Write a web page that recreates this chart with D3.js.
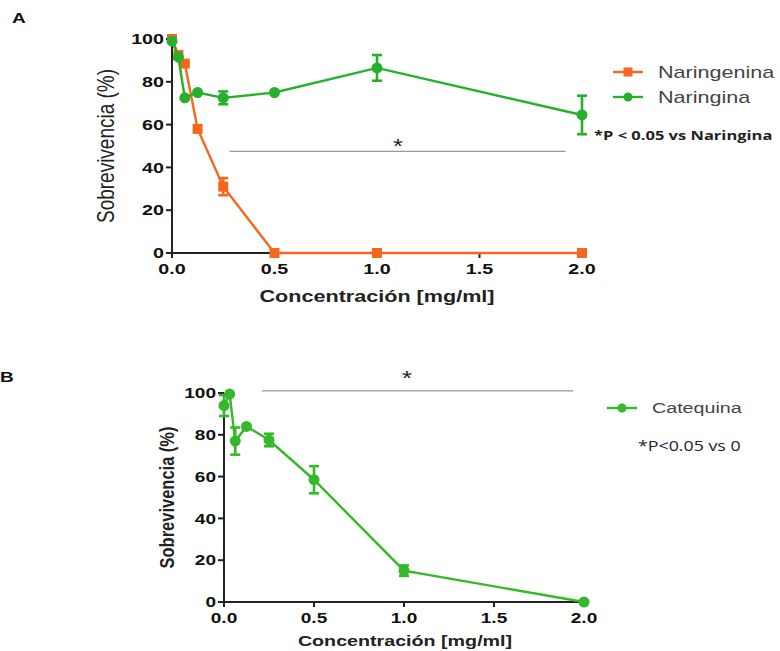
<!DOCTYPE html>
<html>
<head>
<meta charset="utf-8">
<script src="https://cdn.jsdelivr.net/npm/d3@7"></script>
<style>
  body { margin: 0; background: #fff; }
  text { font-family: "Liberation Sans", Arial, sans-serif; }
</style>
</head>
<body>
<script>
// concentrations tested [mg/ml]
var conc = [0, 0.03125, 0.0625, 0.125, 0.25, 0.5, 1, 2];
var xTicks = [0, 0.5, 1, 1.5, 2];
var yTicks = [0, 20, 40, 60, 80, 100];

// panel A
var naringeninaMean = [100, 92.5, 88.5, 58, 31, 0, 0, 0];
var naringeninaErr  = [0, 0, 0, 0, 4, 0, 0, 0];
var naringinaMean   = [99, 91.5, 72.5, 75, 72.5, 75, 86.5, 64.5];
var naringinaErr    = [0, 0, 0, 0, 3, 0, 6, 9];

// panel B
var catequinaMean = [94, 99.5, 77, 84, 77.5, 58.5, 15, 0];
var catequinaErr  = [5, 0, 6.5, 0, 3, 6.5, 2.5, 0];

var orange = "#f5661f",
    green = "#26b02c",
    green2 = "#35b82a";

var stretch = 1.27; // the picture is a bit wide

var svg = d3.select("body").append("svg")
    .attr("width", 780)
    .attr("height", 651);

// text helper, stretched horizontally like the source image
function label(x, y, str, size, weight, anchor, rot, fam, fill) {
  return svg.append("text")
      .attr("transform", "translate(" + x + "," + y + ") scale(" + stretch + ",1) rotate(" + (rot || 0) + ")")
      .attr("text-anchor", anchor || "start")
      .attr("dominant-baseline", "central")
      .style("font-size", size + "px")
      .style("font-weight", weight || "normal")
      .style("font-family", fam || null)
      .attr("fill", fill || "#111")
      .text(str);
}

function drawPanel(p) {
  var x = d3.scaleLinear().domain([0, 2]).range([p.left, p.right]);
  var y = d3.scaleLinear().domain([0, 100]).range([p.bottom, p.top]);

  var g = svg.append("g");

  // axes (drawn by hand so the labels can get the same stretch)
  g.append("line").attr("x1", x(0)).attr("x2", x(2)).attr("y1", y(0)).attr("y2", y(0))
      .attr("stroke", "#222").attr("stroke-width", 2);
  g.append("line").attr("x1", x(0)).attr("x2", x(0)).attr("y1", y(0)).attr("y2", y(100))
      .attr("stroke", "#222").attr("stroke-width", 2);

  yTicks.forEach(function(t) {
    g.append("line").attr("x1", x(0) - 6).attr("x2", x(0)).attr("y1", y(t)).attr("y2", y(t))
        .attr("stroke", "#222").attr("stroke-width", 2);
    label(x(0) - 8, y(t), d3.format("d")(t), p.tickSize, "bold", "end");
  });
  xTicks.forEach(function(t) {
    g.append("line").attr("x1", x(t)).attr("x2", x(t)).attr("y1", y(0)).attr("y2", y(0) + 5)
        .attr("stroke", "#222").attr("stroke-width", 2);
    label(x(t), y(0) + 16, d3.format(".1f")(t), p.tickSize, "bold", "middle");
  });

  label(p.yTitleX, (y(0) + y(100)) / 2, "Sobrevivencia (%)", p.yTitleSize, p.yTitleWeight, "middle", -90, null, "#222");
  label(p.xTitleX, p.xTitleY, "Concentración [mg/ml]", p.xTitleSize, "bold", "middle", 0, null, "#222");

  // significance bar
  g.append("line")
      .attr("x1", x(p.sig[0])).attr("x2", x(p.sig[1]))
      .attr("y1", y(p.sig[2])).attr("y2", y(p.sig[2]))
      .attr("stroke", "#999").attr("stroke-width", 1.3);
  label(p.starX, p.starY, "*", 20, "normal", "middle", 0, null, "#222");

  p.series.forEach(function(s) {
    var pts = conc.map(function(c, i) { return {x: c, m: s.mean[i], e: s.err[i]}; });
    var line = d3.line().x(function(d) { return x(d.x); }).y(function(d) { return y(d.m); });

    g.append("path").datum(pts)
        .attr("fill", "none").attr("stroke", s.color).attr("stroke-width", 2.4)
        .attr("d", line);

    var eb = g.selectAll(null).data(pts.filter(function(d) { return d.e > 0; })).enter().append("g")
        .attr("stroke", s.color).attr("stroke-width", 2.6);
    eb.append("line")
        .attr("x1", function(d) { return x(d.x); }).attr("x2", function(d) { return x(d.x); })
        .attr("y1", function(d) { return y(d.m - d.e); }).attr("y2", function(d) { return y(d.m + d.e); });
    [-1, 1].forEach(function(sg) {
      eb.append("line")
          .attr("x1", function(d) { return x(d.x) - 5; }).attr("x2", function(d) { return x(d.x) + 5; })
          .attr("y1", function(d) { return y(d.m + sg * d.e); }).attr("y2", function(d) { return y(d.m + sg * d.e); });
    });

    if (s.shape == "square") {
      g.selectAll(null).data(pts).enter().append("rect")
          .attr("x", function(d) { return x(d.x) - 5; })
          .attr("y", function(d) { return y(d.m) - 5; })
          .attr("width", 10).attr("height", 10)
          .attr("fill", s.color);
    } else {
      g.selectAll(null).data(pts).enter().append("circle")
          .attr("cx", function(d) { return x(d.x); })
          .attr("cy", function(d) { return y(d.m); })
          .attr("r", 5.5)
          .attr("fill", s.color);
    }
  });

  // legend
  p.series.forEach(function(s, i) {
    var ly = p.legY + i * p.legStep;
    svg.append("line").attr("x1", p.legX).attr("x2", p.legX + 30).attr("y1", ly).attr("y2", ly)
        .attr("stroke", s.color).attr("stroke-width", 2.4);
    if (s.shape == "square") {
      svg.append("rect").attr("x", p.legX + 10.5).attr("y", ly - 4.5).attr("width", 9).attr("height", 9).attr("fill", s.color);
    } else {
      svg.append("circle").attr("cx", p.legX + 15).attr("cy", ly).attr("r", 4.5).attr("fill", s.color);
    }
    label(p.legX + 45, ly, s.name, p.legSize, "normal", "start", 0, null, "#444");
  });
  label(p.noteX, p.noteY, p.note, p.noteSize, p.noteWeight, "start", 0, "Open Sans", "#222");
}

label(12, 18, "A", 15, "bold", "start");
label(0, 377, "B", 15, "bold", "start");

drawPanel({
  left: 172, right: 582, top: 39, bottom: 253,
  tickSize: 15.5, yTitleX: 106, yTitleSize: 19, yTitleWeight: "normal",
  xTitleX: 377, xTitleY: 296, xTitleSize: 17,
  sig: [0.28, 1.92, 47.5], starX: 398, starY: 146,
  series: [
    {name: "Naringenina", mean: naringeninaMean, err: naringeninaErr, color: orange, shape: "square"},
    {name: "Naringina", mean: naringinaMean, err: naringinaErr, color: green, shape: "circle"}
  ],
  legX: 613, legY: 72, legStep: 25, legSize: 17,
  note: "*P < 0.05 vs Naringina", noteX: 594, noteY: 135, noteSize: 13, noteWeight: "bold"
});

drawPanel({
  left: 224, right: 584, top: 393, bottom: 602,
  tickSize: 15, yTitleX: 167, yTitleSize: 16.5, yTitleWeight: "bold",
  xTitleX: 405, xTitleY: 641, xTitleSize: 15.5,
  sig: [0.21, 1.94, 101], starX: 407, starY: 378,
  series: [
    {name: "Catequina", mean: catequinaMean, err: catequinaErr, color: green2, shape: "circle"}
  ],
  legX: 607, legY: 408, legStep: 25, legSize: 15.5,
  note: "*P<0.05 vs 0", noteX: 638, noteY: 446, noteSize: 14, noteWeight: "normal"
});
</script>
</body>
</html>
